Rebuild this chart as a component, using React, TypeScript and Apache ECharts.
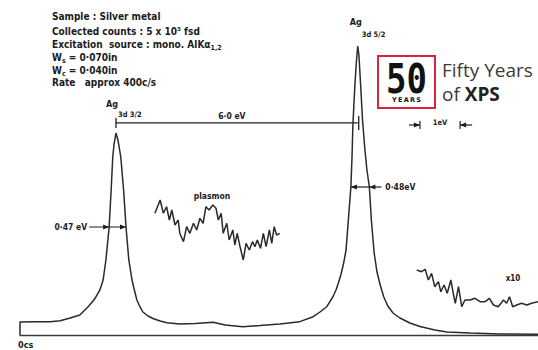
import React, { useEffect, useRef } from "react";
import * as echarts from "echarts";

// Binding energy (eV, decreasing to the right) and counts of the Ag 3d spectrum
const mainEnergy = [
  376.6, 376.6, 376.23, 375.85, 375.6, 375.35, 375.11, 374.91, 374.78, 374.71, 374.61, 374.53, 374.46,
  374.38, 374.33, 374.29, 374.26, 374.21, 374.16, 374.09, 374.02, 373.96, 373.89, 373.81, 373.74,
  373.69, 373.61, 373.54, 373.41, 373.29, 373.11, 372.94, 372.62, 372.24, 371.79, 371.49, 371.05,
  370.62, 370.13, 369.63, 369.3, 369.13, 368.96, 368.81, 368.73, 368.68, 368.61, 368.54, 368.48,
  368.36, 368.33, 368.31, 368.26, 368.22, 368.19, 368.16, 368.11, 368.07, 368.01, 367.96, 367.9,
  367.85, 367.78, 367.71, 367.63, 367.54, 367.44, 367.31, 367.14, 366.89, 366.64, 366.27, 365.97,
  365.39, 364.65, 363.7,
];
const mainCounts = [
  0, 210, 215, 215, 231, 274, 323, 452, 548, 613, 726, 887, 1210,
  1742, 2339, 2871, 3065, 3258, 3145, 2871, 2339, 1742, 1210, 887, 694,
  565, 452, 371, 306, 266, 226, 198, 177, 185, 205, 161, 134,
  153, 177, 215, 295, 371, 456, 613, 726, 823, 968, 1161, 1371,
  2387, 2903, 3387, 4032, 4435, 4661, 4516, 3952, 3468, 2984, 2661, 2387,
  1855, 1323, 1016, 806, 613, 468, 355, 274, 194, 137, 81, 48,
  32, 16, 11,
];

// Expanded plasmon loss region trace
const plasmonEnergy = [
  373.24, 373.11, 373.03, 372.95, 372.88, 372.82, 372.74, 372.66, 372.62, 372.53, 372.45, 372.37,
  372.28, 372.2, 372.12, 372.04, 371.97, 371.89, 371.8, 371.72, 371.66, 371.59, 371.54, 371.45,
  371.39, 371.3, 371.25, 371.19, 371.12, 371.04, 370.97, 370.89, 370.81, 370.75, 370.69, 370.61,
  370.54, 370.47, 370.39, 370.33, 370.27, 370.21, 370.13,
];
const plasmonCounts = [
  1963, 2177, 1963, 2069, 1855, 2016, 1774, 1855, 1640, 1505, 1747, 1640,
  1802, 1694, 1882, 1802, 2069, 2016, 2097, 2044, 1855, 1963, 1640, 1802,
  1532, 1694, 1452, 1640, 1424, 1210, 1479, 1371, 1505, 1424, 1532, 1398,
  1640, 1424, 1694, 1479, 1747, 1613, 1640,
];

// x10 expanded tail trace
const x10Energy = [
  366.72, 366.6, 366.51, 366.43, 366.35, 366.27, 366.18, 366.12, 366.04, 365.96, 365.87, 365.81,
  365.76, 365.68, 365.6, 365.52, 365.39, 365.27, 365.14, 365.02, 364.91, 364.81, 364.69, 364.56,
  364.48, 364.41, 364.33, 364.23, 364.11, 363.98, 363.86, 363.7,
];
const x10Counts = [
  1048, 1021, 1060, 887, 995, 779, 860, 698, 806, 673, 887, 673,
  511, 779, 456, 565, 565, 592, 537, 537, 592, 484, 456, 565,
  511, 618, 456, 484, 511, 484, 511, 537,
];

// Annotation values
const peakEnergy = [374.21, 368.19];
const peakCounts = [3258, 4661];
const peakSub = ["3d 3/2", "3d 5/2"];
const fwhmLabels = ["0·47 eV", "0·48eV"];
const fwhmLevel = [1742, 2387];
const fwhmLeftEdge = [374.38, 368.36];
const fwhmRightEdge = [373.96, 367.9];
const separationLevel = 3420;
const separationLabel = "6·0 eV";
const scaleBarEnergy = [366.64, 365.64];
const scaleBarLabel = "1eV";
const infoLines = [
  "Sample : Silver metal",
  "Collected counts : 5 x 10³ fsd",
  "Excitation  source : mono. AlKα{sub|1,2}",
  "W{sub|s} = 0·070in",
  "W{sub|c} = 0·040in",
  "Rate   approx 400c/s",
];

const FONT = '"Liberation Sans Narrow", "DejaVu Sans Condensed", "Roboto Condensed", sans-serif';
const INK = "#1c1c1c";

export default function App() {
  const ref = useRef<HTMLDivElement>(null);
  useEffect(() => {
    const chart = echarts.init(ref.current!, null, { renderer: "svg" });
    const pairs = (xs: number[], ys: number[]) => xs.map((x, i) => [x, ys[i]]);
    const lineSeries = (data: number[][]) => ({
      type: "line",
      data,
      symbol: "none",
      showSymbol: false,
      silent: true,
      lineStyle: { color: "#2a2a2a", width: 1.5 },
    });
    chart.setOption({
      animation: false,
      backgroundColor: "#ffffff",
      grid: { left: 20, right: 0, top: 25, bottom: 15 },
      xAxis: {
        type: "value",
        min: 363.7,
        max: 376.6,
        inverse: true,
        axisLine: { show: true, onZero: true, lineStyle: { color: "#3a3a3a", width: 1.4 } },
        axisTick: { show: false },
        axisLabel: { show: false },
        splitLine: { show: false },
      },
      yAxis: { type: "value", min: 0, max: 5000, show: false, splitLine: { show: false } },
      series: [
        lineSeries(pairs(mainEnergy, mainCounts)),
        lineSeries(pairs(plasmonEnergy, plasmonCounts)),
        lineSeries(pairs(x10Energy, x10Counts)),
      ],
    });

    const px = (e: number, c: number) => chart.convertToPixel({ gridIndex: 0 }, [e, c]) as number[];
    const els: any[] = [];
    const text = (x: number, y: number, t: string, size: number, align = "left", extra: any = {}) => {
      els.push({
        type: "text",
        x,
        y,
        silent: true,
        style: {
          text: t,
          fill: INK,
          fontFamily: FONT,
          fontWeight: "bold",
          fontSize: size,
          align,
          textAlign: align,
          verticalAlign: "middle",
          textVerticalAlign: "middle",
          ...extra,
        },
      });
    };
    const seg = (x1: number, y1: number, x2: number, y2: number, w = 1.2) =>
      els.push({
        type: "line",
        silent: true,
        shape: { x1, y1, x2, y2 },
        style: { stroke: INK, lineWidth: w },
      });
    const head = (tx: number, ty: number, dir: number) =>
      els.push({
        type: "polygon",
        silent: true,
        shape: { points: [[tx, ty], [tx - dir * 6, ty - 2.4], [tx - dir * 6, ty + 2.4]] },
        style: { fill: INK },
      });

    // info block
    const infoY = [16.7, 31.5, 44.5, 57.3, 70, 82];
    infoLines.forEach((l, i) =>
      text(52, infoY[i], l, 10, "left", {
        rich: {
          sub: { fontFamily: FONT, fontWeight: "bold", fontSize: 7, fill: INK, verticalAlign: "bottom", lineHeight: 14 },
        },
      })
    );

    // peak labels
    const p1 = px(peakEnergy[0], peakCounts[0]);
    const p2 = px(peakEnergy[1], peakCounts[1]);
    text(p1[0] - 10, p1[1] - 29, "Ag", 9);
    text(p1[0] + 2, p1[1] - 19, peakSub[0], 7.5);
    text(p2[0] - 8, p2[1] - 24, "Ag", 9);
    text(p2[0] + 4, p2[1] - 12, peakSub[1], 7.5);

    // separation bracket
    const s1 = px(peakEnergy[0], separationLevel);
    const s2 = px(peakEnergy[1], separationLevel);
    seg(s1[0], s1[1], s2[0], s2[1], 1.3);
    seg(s1[0], s1[1] - 5, s1[0], s1[1] + 5, 1.3);
    seg(s2[0] + 1, s2[1] - 7, s2[0] + 1, s2[1] + 7, 1.3);
    text((s1[0] + s2[0]) / 2 - 5, s1[1] - 7, separationLabel, 8.5, "center");

    // FWHM markers
    const a1 = px(fwhmLeftEdge[0], fwhmLevel[0]);
    const b1 = px(fwhmRightEdge[0], fwhmLevel[0]);
    seg(a1[0] - 20, a1[1], b1[0], b1[1]);
    head(a1[0], a1[1], 1);
    head(b1[0], b1[1], 1);
    text(a1[0] - 22, a1[1], fwhmLabels[0], 8.5, "right");

    const a2 = px(fwhmLeftEdge[1], fwhmLevel[1]);
    const b2 = px(fwhmRightEdge[1], fwhmLevel[1]);
    seg(a2[0], a2[1], b2[0] + 12, b2[1]);
    head(a2[0], a2[1], -1);
    head(b2[0], b2[1], -1);
    text(b2[0] + 16, b2[1], fwhmLabels[1], 8.5, "left");

    // 1 eV scale bar
    const k1 = px(scaleBarEnergy[0], 0)[0];
    const k2 = px(scaleBarEnergy[1], 0)[0];
    const ky = 125;
    seg(k1 - 11, ky, k1, ky);
    head(k1, ky, 1);
    seg(k1, ky - 4, k1, ky + 4);
    seg(k2, ky, k2 + 12, ky);
    head(k2, ky, -1);
    seg(k2, ky - 4, k2, ky + 4);
    text((k1 + k2) / 2, ky - 3, scaleBarLabel, 7.5, "center");

    // other labels
    text(212, 196, "plasmon", 8.5, "center");
    text(513, 278, "x10", 8, "center");
    text(18, 345, "0cs", 9, "left");

    // logo
    els.push({
      type: "rect",
      silent: true,
      shape: { x: 378, y: 56, width: 57, height: 52 },
      style: { fill: "#ffffff", stroke: "#d7263d", lineWidth: 2 },
    });
    els.push({
      type: "text",
      silent: true,
      x: 406.5,
      y: 79,
      scaleY: 1.2,
      style: {
        text: "50",
        fill: "#111111",
        fontFamily: '"DejaVu Sans Mono", monospace',
        fontWeight: "bold",
        fontSize: 34,
        align: "center",
        textAlign: "center",
        verticalAlign: "middle",
        textVerticalAlign: "middle",
      },
    });
    els.push({
      type: "text",
      silent: true,
      x: 406.5,
      y: 99.5,
      style: {
        text: "Y\u2009E\u2009A\u2009R\u2009S",
        fill: "#111111",
        fontFamily: '"DejaVu Sans", sans-serif',
        fontWeight: "bold",
        fontSize: 6.5,
        align: "center",
        textAlign: "center",
        verticalAlign: "middle",
        textVerticalAlign: "middle",
      },
    });
    els.push({
      type: "text",
      silent: true,
      x: 442,
      y: 70,
      style: {
        text: "Fifty Years",
        fill: "#3a3a3a",
        fontFamily: '"Open Sans", sans-serif',
        fontSize: 19,
        align: "left",
        textAlign: "left",
        verticalAlign: "middle",
        textVerticalAlign: "middle",
      },
    });
    els.push({
      type: "text",
      silent: true,
      x: 442,
      y: 94,
      style: {
        text: "of {b|XPS}",
        fill: "#3a3a3a",
        fontFamily: '"Open Sans", sans-serif',
        fontSize: 19,
        align: "left",
        textAlign: "left",
        verticalAlign: "middle",
        textVerticalAlign: "middle",
        rich: { b: { fontFamily: '"Open Sans", sans-serif', fontSize: 19, fontWeight: "bold", fill: "#222222" } },
      },
    });

    chart.setOption({ graphic: { elements: els } });
    return () => chart.dispose();
  }, []);
  return (
    <div
      ref={ref}
      style={{ position: "absolute", left: 0, top: 0, width: 538, height: 350, background: "#ffffff" }}
    />
  );
}
